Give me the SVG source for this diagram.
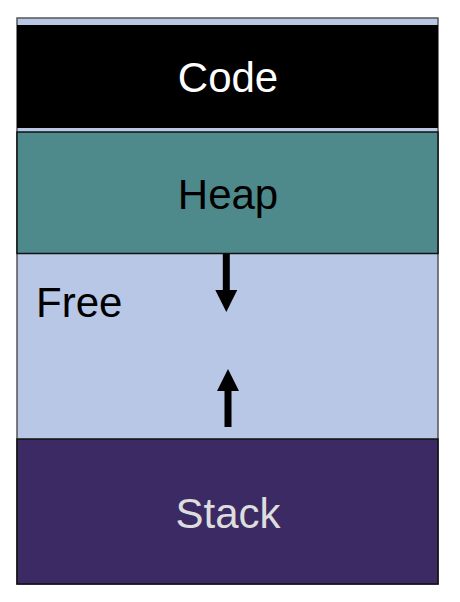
<svg xmlns="http://www.w3.org/2000/svg" width="460" height="602" viewBox="0 0 460 602">
<style>
.lbl{font-family:"Liberation Sans",Arial,sans-serif;font-size:42px;text-anchor:middle}
.seg{stroke:#111;stroke-width:1.5}
</style>
<defs>
<marker id="ah" markerUnits="userSpaceOnUse" markerWidth="22" markerHeight="22" viewBox="0 0 22 22" refX="0" refY="11" orient="auto">
<path d="M0,0 L22,11 L0,22 Z" fill="#000"/>
</marker>
</defs>
<rect x="0" y="0" width="460" height="602" fill="#fff"/>
<g id="frame">
<rect x="17" y="18" width="421" height="566" fill="#B8C7E6" stroke="#555" stroke-width="1.5"/>
</g>
<g id="code">
<rect x="17" y="25" width="421" height="103" fill="#000"/>
<text class="lbl" x="228" y="91.5" fill="#fff">Code</text>
</g>
<g id="heap">
<rect x="17" y="132" width="421" height="121.5" fill="#4E8A8B" class="seg"/>
<text class="lbl" x="228" y="209.3" fill="#000">Heap</text>
</g>
<g id="free">
<text x="36" y="317" font-family="Liberation Sans,Arial,sans-serif" font-size="42" fill="#000">Free</text>
</g>
<g id="stack">
<rect x="17" y="439" width="421" height="145" fill="#3B2A63" class="seg"/>
<text class="lbl" x="228" y="528.3" fill="#DDDDDD">Stack</text>
</g>
<g id="connectors">
<line x1="226.3" y1="253.5" x2="226.3" y2="290" stroke="#000" stroke-width="7" marker-end="url(#ah)"/>
<line x1="228" y1="427" x2="228" y2="391" stroke="#000" stroke-width="7" marker-end="url(#ah)"/>
</g>
</svg>
